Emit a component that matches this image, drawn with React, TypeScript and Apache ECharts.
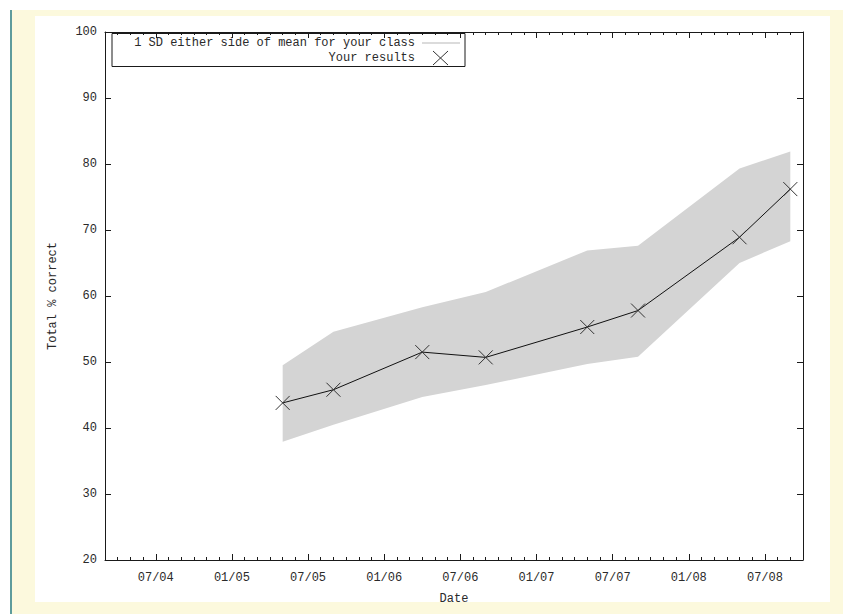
import React, { useEffect, useRef } from "react";
import * as echarts from "echarts";

// Month index: 0 = Jan 2004
const dates: string[] = ["2005-05", "2005-09", "2006-04", "2006-09", "2007-05", "2007-09", "2008-05", "2008-09"];
const yourResults: number[] = [43.8, 45.8, 51.5, 50.7, 55.3, 57.8, 68.9, 76.2];
const sdUpper: number[] = [49.5, 54.6, 58.3, 60.6, 66.9, 67.6, 79.3, 81.9];
const sdLower: number[] = [37.9, 40.5, 44.7, 46.5, 49.7, 50.8, 65.0, 68.3];
const majorTickMonths: number[] = [6, 12, 18, 24, 30, 36, 42, 48, 54];
const xMin = 2;
const xMax = 57;
const yMin = 20;
const yMax = 100;

const toMonth = (d: string) => {
  const [y, m] = d.split("-").map(Number);
  return (y - 2004) * 12 + (m - 1);
};
const monthLabel = (v: number) => {
  const mm = (v % 12) + 1;
  const yy = 2004 + Math.floor(v / 12);
  return String(mm).padStart(2, "0") + "/" + String(yy % 100).padStart(2, "0");
};

const FONT = "Liberation Mono";
const AX = "#1a1a1a";
const TXT = "#2a2a2a";
const CREAM = "#fcf9dd";

export default function App() {
  const ref = useRef<HTMLDivElement>(null);
  useEffect(() => {
    if (!ref.current) return;
    const chart = echarts.init(ref.current, undefined, { renderer: "svg" });
    const months = dates.map(toMonth);
    const minorMonths: number[] = [];
    for (let m = xMin + 1; m < xMax; m++) minorMonths.push(m);

    const baseX = {
      type: "value" as const,
      min: xMin,
      max: xMax,
      splitLine: { show: false },
    };
    const cross = "path://M0,0L10,10M10,0L0,10";

    chart.setOption({
      animation: false,
      backgroundColor: "#ffffff",
      grid: { left: 105, right: 40, top: 32, bottom: 54, containLabel: false },
      xAxis: [
        {
          ...baseX,
          position: "bottom",
          axisLine: { show: true, lineStyle: { color: AX, width: 1 } },
          axisTick: { show: true, inside: true, length: 3, customValues: minorMonths, lineStyle: { color: AX } },
          axisLabel: {
            show: true,
            customValues: majorTickMonths,
            formatter: (v: number) => monthLabel(v),
            margin: 12,
            fontFamily: FONT,
            fontSize: 12,
            color: TXT,
          },
          name: "Date",
          nameLocation: "middle",
          nameGap: 33,
          nameTextStyle: { fontFamily: FONT, fontSize: 12, color: TXT },
        },
        {
          ...baseX,
          position: "bottom",
          axisLine: { show: false },
          axisTick: { show: true, inside: true, length: 6, customValues: majorTickMonths, lineStyle: { color: AX } },
          axisLabel: { show: false },
        },
        {
          ...baseX,
          position: "top",
          axisLine: { show: true, lineStyle: { color: AX, width: 1 } },
          axisTick: { show: true, inside: true, length: 3, customValues: minorMonths, lineStyle: { color: AX } },
          axisLabel: { show: false },
        },
        {
          ...baseX,
          position: "top",
          axisLine: { show: false },
          axisTick: { show: true, inside: true, length: 6, customValues: majorTickMonths, lineStyle: { color: AX } },
          axisLabel: { show: false },
        },
      ],
      yAxis: [
        {
          type: "value",
          min: yMin,
          max: yMax,
          interval: 10,
          position: "left",
          splitLine: { show: false },
          axisLine: { show: true, lineStyle: { color: AX, width: 1 } },
          axisTick: { show: true, inside: true, length: 6, lineStyle: { color: AX } },
          axisLabel: { margin: 8, fontFamily: FONT, fontSize: 12, color: TXT },
          name: "Total % correct",
          nameLocation: "middle",
          nameRotate: 90,
          nameGap: 46,
          nameTextStyle: { fontFamily: FONT, fontSize: 12, color: TXT },
        },
        {
          type: "value",
          min: yMin,
          max: yMax,
          interval: 10,
          position: "right",
          splitLine: { show: false },
          axisLine: { show: true, lineStyle: { color: AX, width: 1 } },
          axisTick: { show: true, inside: true, length: 6, lineStyle: { color: AX } },
          axisLabel: { show: false },
        },
      ],
      series: [
        {
          name: "1 SD either side of mean for your class",
          type: "custom",
          xAxisIndex: 0,
          yAxisIndex: 0,
          data: months.map((m, i) => [m, sdLower[i], sdUpper[i]]),
          encode: { x: 0, y: [1, 2] },
          silent: true,
          z: 1,
          renderItem: (params: any, api: any) => {
            if (params.dataIndex !== 0) return null;
            const pts: number[][] = [];
            months.forEach((m, i) => pts.push(api.coord([m, sdUpper[i]])));
            for (let i = months.length - 1; i >= 0; i--) pts.push(api.coord([months[i], sdLower[i]]));
            return {
              type: "polygon",
              shape: { points: pts },
              style: { fill: "#d4d4d4", stroke: "none" },
            };
          },
        },
        {
          name: "Your results",
          type: "line",
          xAxisIndex: 0,
          yAxisIndex: 0,
          data: months.map((m, i) => [m, yourResults[i]]),
          lineStyle: { color: "#111", width: 1 },
          symbol: cross,
          symbolSize: 14,
          itemStyle: { color: "rgba(0,0,0,0)", borderColor: "#333", borderWidth: 1 },
          z: 3,
        },
      ],
      graphic: [
        // page frame (screenshot surroundings)
        { type: "rect", z: -10, shape: { x: 10, y: 10, width: 2, height: 604 }, style: { fill: "#5e9c9c" } },
        { type: "rect", z: -10, shape: { x: 12, y: 10, width: 23, height: 604 }, style: { fill: CREAM } },
        { type: "rect", z: -10, shape: { x: 12, y: 10, width: 831, height: 6 }, style: { fill: CREAM } },
        { type: "rect", z: -10, shape: { x: 830, y: 10, width: 13, height: 604 }, style: { fill: CREAM } },
        { type: "rect", z: -10, shape: { x: 12, y: 602, width: 831, height: 12 }, style: { fill: CREAM } },
        // legend box
        {
          type: "group",
          z: 10,
          children: [
            { type: "rect", shape: { x: 112, y: 33.5, width: 353, height: 33 }, style: { fill: "#fff", stroke: AX, lineWidth: 1 } },
            {
              type: "text",
              x: 415,
              y: 43,
              style: { text: "1 SD either side of mean for your class", align: "right", verticalAlign: "middle", fontFamily: FONT, fontSize: 12, fill: TXT },
            },
            { type: "line", shape: { x1: 422, y1: 43, x2: 460, y2: 43 }, style: { stroke: "#cfcfcf", lineWidth: 1.5 } },
            {
              type: "text",
              x: 415,
              y: 58,
              style: { text: "Your results", align: "right", verticalAlign: "middle", fontFamily: FONT, fontSize: 12, fill: TXT },
            },
            { type: "line", shape: { x1: 433, y1: 51, x2: 448, y2: 65 }, style: { stroke: "#333", lineWidth: 1 } },
            { type: "line", shape: { x1: 448, y1: 51, x2: 433, y2: 65 }, style: { stroke: "#333", lineWidth: 1 } },
          ],
        },
      ],
    });
    return () => chart.dispose();
  }, []);
  return <div ref={ref} style={{ position: "fixed", left: 0, top: 0, width: 843, height: 614 }} />;
}
